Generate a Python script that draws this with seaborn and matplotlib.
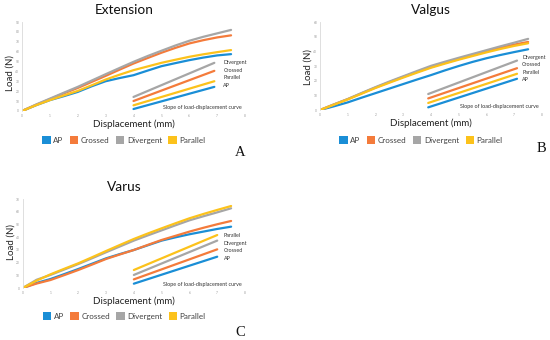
import numpy as np
import pandas as pd
import matplotlib
matplotlib.use("Agg")
import matplotlib.pyplot as plt
from matplotlib.patches import Patch
import seaborn as sns

# ---------------- data ----------------
series = ["AP", "Crossed", "Divergent", "Parallel"]
colors = ["#1a8ed6", "#f47b3b", "#a6a6a6", "#fcc21b"]

disp = [0, 0.5, 1, 1.5, 2, 2.5, 3, 3.5, 4, 4.5, 5, 5.5, 6, 6.5, 7, 7.5]

# Extension
ext_ap = [0, 5.8, 11, 15, 19.3, 25, 30.1, 33.3, 36.2, 40.8, 45.3, 48.4, 51.4, 54, 56.2, 57.5]
ext_crossed = [0, 6.2, 12, 17.8, 23.3, 29.4, 35.5, 41.8, 48, 53.5, 58.9, 63.8, 68.3, 71.6, 74.4, 76.5]
ext_divergent = [0, 6.5, 12.5, 18.5, 24.4, 30.8, 37.2, 43.5, 49.7, 55.5, 60.9, 66.2, 71, 75, 78.5, 82]
ext_parallel = [0, 5.8, 11, 15.7, 20.3, 26, 31.8, 36.7, 41.3, 45, 48.7, 51.8, 54.8, 57.3, 59.5, 61.6]
ext_slope_x = [4.0, 6.9]
ext_slope_ap = [2.0, 24.4]
ext_slope_crossed = [10.1, 40.6]
ext_slope_divergent = [14.2, 48.7]
ext_slope_parallel = [5.75, 30.1]

# Valgus
val_ap = [0, 2.5, 5.2, 8.4, 11.5, 14.6, 17.7, 20.8, 23.8, 27.0, 30.0, 32.8, 35.3, 37.5, 39.5, 41.4]
val_crossed = [0, 3.8, 7.4, 11.4, 15.3, 19.0, 22.6, 26.0, 29.3, 32.1, 34.8, 37.4, 40.0, 42.4, 44.6, 46.4]
val_divergent = [0, 3.8, 7.5, 11.6, 15.6, 19.4, 23.0, 26.6, 30.1, 32.9, 35.6, 38.2, 40.8, 43.4, 45.9, 48.5]
val_parallel = [0, 3.6, 7.2, 11.1, 15.0, 18.6, 22.1, 25.5, 28.8, 31.6, 34.3, 36.8, 39.3, 41.6, 43.7, 45.5]
val_slope_x = [3.9, 7.1]
val_slope_ap = [1.8, 21.3]
val_slope_crossed = [7.9, 28.5]
val_slope_divergent = [10.9, 33.7]
val_slope_parallel = [4.8, 24.7]

# Varus
var_ap = [0, 4, 7.1, 11, 15, 19.2, 23.4, 26.8, 30, 33.7, 37.4, 40, 42.4, 44.5, 46.6, 48.4]
var_crossed = [0, 3.5, 6.3, 10.2, 14.2, 18.5, 22.9, 26.5, 30, 34, 37.9, 41.2, 44.5, 47.5, 50.3, 52.9]
var_divergent = [0, 6.5, 10.3, 14.6, 18.9, 23.5, 28.2, 32.8, 37.4, 41.5, 45.5, 49.5, 53.4, 56.6, 59.7, 62.9]
var_parallel = [0, 5.8, 10.8, 15.2, 19.5, 24.3, 29.2, 34, 38.7, 43, 47.1, 51.1, 55, 58.4, 61.6, 64.7]
var_slope_x = [4.0, 7.0]
var_slope_ap = [3.4, 24.7]
var_slope_crossed = [6.8, 30.5]
var_slope_divergent = [10.3, 37.4]
var_slope_parallel = [14.2, 41.8]

x_ticks = [0, 1, 2, 3, 4, 5, 6, 7, 8]
ext_y_ticks = [0, 10, 20, 30, 40, 50, 60, 70, 80, 90]
val_y_ticks = [0, 10, 20, 30, 40, 50, 60]
var_y_ticks = [0, 10, 20, 30, 40, 50, 60, 70]

titles = ["Extension", "Valgus", "Varus"]
panel_letters = ["A", "B", "C"]
slope_caption = "Slope of load-displacement curve"
x_label = "Displacement (mm)"
y_label = "Load (N)"

# ---------------- style ----------------
sns.set_theme(style="white")
plt.rcParams["font.family"] = ["Lato", "DejaVu Sans"]

palette = dict(zip(series, colors))

fig = plt.figure(figsize=(5.5, 3.4), dpi=100)

W, H = 550.0, 340.0


def px_axes(left, top, right, bottom):
    return fig.add_axes([left / W, 1 - bottom / H, (right - left) / W, (bottom - top) / H])


panels = [
    dict(rect=(22, 22, 245, 111), curves=[ext_ap, ext_crossed, ext_divergent, ext_parallel],
         sx=ext_slope_x, slopes=[ext_slope_ap, ext_slope_crossed, ext_slope_divergent, ext_slope_parallel],
         yt=ext_y_ticks, title_x=0.457, ylab=(-0.054, 0.43), leg=(0.457, -0.326),
         lab_x=0.903, lab_top=0.545, cap_y=0.035, letter=(240, 153)),
    dict(rect=(320, 22, 542, 110), curves=[val_ap, val_crossed, val_divergent, val_parallel],
         sx=val_slope_x, slopes=[val_slope_ap, val_slope_crossed, val_slope_divergent, val_slope_parallel],
         yt=val_y_ticks, title_x=0.5, ylab=(-0.054, 0.49), leg=(0.455, -0.34),
         lab_x=0.91, lab_top=0.6, cap_y=0.04, letter=(541, 148)),
    dict(rect=(22.7, 199.3, 245, 288), curves=[var_ap, var_crossed, var_divergent, var_parallel],
         sx=var_slope_x, slopes=[var_slope_ap, var_slope_crossed, var_slope_divergent, var_slope_parallel],
         yt=var_y_ticks, title_x=0.457, ylab=(-0.054, 0.517), leg=(0.457, -0.315),
         lab_x=0.905, lab_top=0.59, cap_y=0.045, letter=(240, 332)),
]

for i, p in enumerate(panels):
    ax = px_axes(*p["rect"])
    curve_df = pd.concat(
        [pd.DataFrame({"Displacement": disp, "Load": vals, "Group": s})
         for s, vals in zip(series, p["curves"])], ignore_index=True)
    slope_df = pd.concat(
        [pd.DataFrame({"Displacement": p["sx"], "Load": vals, "Group": s})
         for s, vals in zip(series, p["slopes"])], ignore_index=True)
    sns.lineplot(data=curve_df, x="Displacement", y="Load", hue="Group", palette=palette,
                 hue_order=series, linewidth=1.6, legend=False, ax=ax, sort=False)
    sns.lineplot(data=slope_df, x="Displacement", y="Load", hue="Group", palette=palette,
                 hue_order=series, linewidth=1.6, legend=False, ax=ax, sort=False)

    ax.set_xlim(x_ticks[0], x_ticks[-1])
    ax.set_ylim(p["yt"][0], p["yt"][-1])
    ax.set_xticks(x_ticks)
    ax.set_yticks(p["yt"])
    ax.tick_params(axis="both", length=0, labelsize=2.3, labelcolor="#9a9a9a", pad=2)
    for side in ["top", "right", "bottom"]:
        ax.spines[side].set_visible(False)
    ax.spines["left"].set_color("#d9d9d9")
    ax.spines["left"].set_linewidth(0.6)
    ax.grid(False)

    ax.set_title(titles[i], x=p["title_x"], y=1.135, va="center", fontsize=9.8, color="#111111", pad=0)
    ax.set_xlabel(x_label, fontsize=7, color="#222222")
    ax.xaxis.set_label_coords(0.5, -0.095)
    ax.set_ylabel(y_label, fontsize=7, color="#222222", va="center")
    ax.yaxis.set_label_coords(*p["ylab"])

    # slope labels, ordered by slope end values
    order = sorted(range(len(series)), key=lambda k: -p["slopes"][k][-1])
    for j, k in enumerate(order):
        ax.text(p["lab_x"], p["lab_top"] - j * 0.086, series[k], transform=ax.transAxes,
                fontsize=3.9, color="#333333", ha="left", va="center")
    ax.text(0.81, p["cap_y"], slope_caption, transform=ax.transAxes, fontsize=3.9,
            color="#333333", ha="center", va="center")

    handles = [Patch(facecolor=c, edgecolor="none", label=s) for s, c in zip(series, colors)]
    leg = ax.legend(handles=handles, loc="center", bbox_to_anchor=p["leg"], ncol=4,
                    frameon=False, fontsize=5.8, handlelength=1.05, handleheight=1.05,
                    handletextpad=0.3, columnspacing=0.8, borderpad=0)
    for t in leg.get_texts():
        t.set_color("#404040")

    fig.text(p["letter"][0] / W, 1 - p["letter"][1] / H, panel_letters[i],
             fontsize=10.5, family="Liberation Serif", ha="center", va="center", color="#111111")

fig.savefig("out.png", dpi=100, facecolor="white")
